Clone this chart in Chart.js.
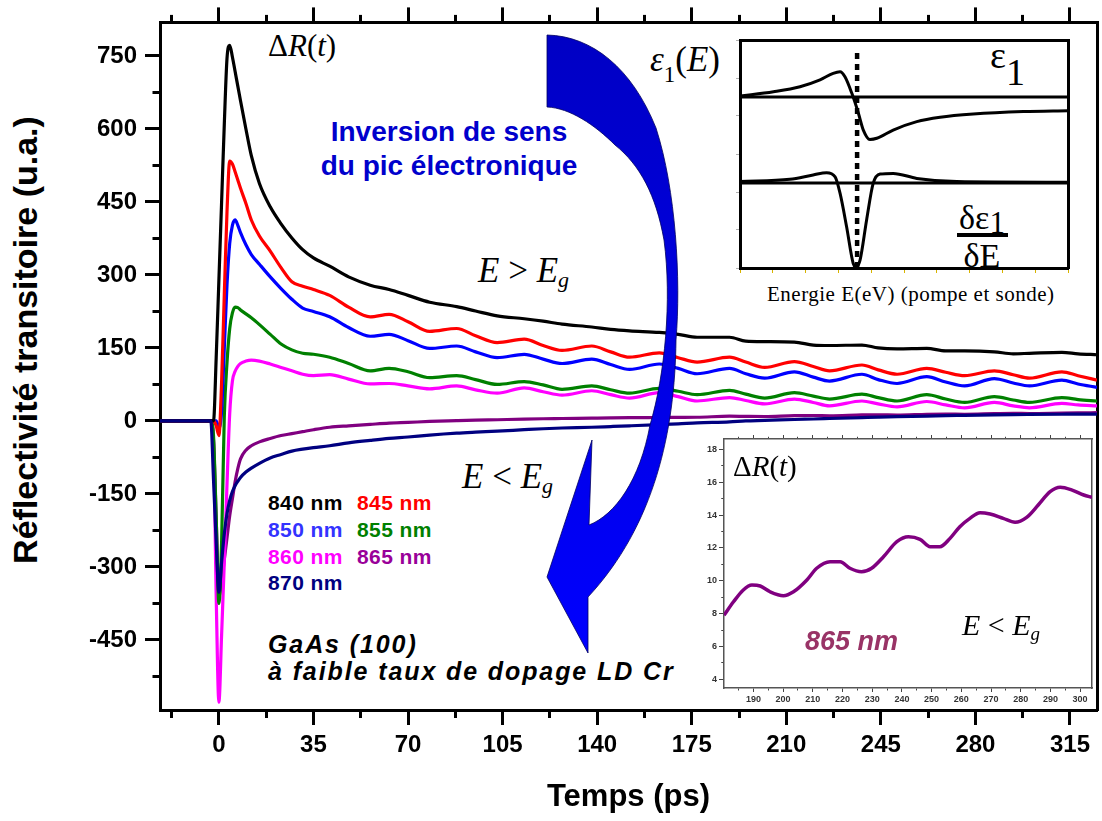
<!DOCTYPE html>
<html><head><meta charset="utf-8">
<script src="https://cdn.jsdelivr.net/npm/chart.js@4.4.0/dist/chart.umd.min.js"></script>
<style>
html,body{margin:0;padding:0;background:#fff;}
#wrap{position:relative;width:1102px;height:821px;overflow:hidden;background:#fff;}
#wrap canvas{position:absolute;}
.t{position:absolute;white-space:nowrap;line-height:1;}
.sans{font-family:'Liberation Sans',Arial,sans-serif;}
.serif{font-family:'Liberation Serif','Times New Roman',serif;}
.b{font-weight:bold;}
</style></head><body>
<div id="wrap">
<canvas id="main" width="1102" height="821" style="left:0;top:0;z-index:1"></canvas>
<svg width="1102" height="821" style="position:absolute;left:0;top:0;z-index:2">
  <defs><linearGradient id="ag" x1="0" y1="0" x2="0" y2="1">
    <stop offset="0" stop-color="#0000c4"/><stop offset="1" stop-color="#0000ff"/></linearGradient></defs>
  <path fill="url(#ag)" stroke="#000060" stroke-width="0.8"
   d="M547,35 C592,36 632,68 656,128 C676,190 681,280 676,340 C675,430 655,525 588,597 L588,653 L547,577 L592,440 L589,525 C615,515 640,480 650,425 C665,375 672,300 664,240 C656,195 640,165 615,145 C595,125 570,108 547,107 Z"/>
</svg>
<canvas id="eps" width="350" height="250" style="left:730px;top:30px;z-index:3"></canvas>
<canvas id="zoom" width="404" height="282" style="left:690px;top:428px;z-index:3"></canvas>

<div class="t sans b" style="left:25px;top:340px;font-size:34px;transform:translate(-50%,-50%) rotate(-90deg);">Réflectivité transitoire (u.a.)</div>

<div class="t serif" style="left:268px;top:30px;font-size:31px;">Δ<i>R</i>(<i>t</i>)</div>
<div class="t sans b" style="left:249px;top:115px;width:400px;text-align:center;font-size:28px;line-height:34px;color:#0000cc;">Inversion de sens<br>du pic électronique</div>
<div class="t serif" style="left:478px;top:253px;font-size:35px;"><i>E</i> &gt; <i>E</i><i style="font-size:22px;position:relative;top:5px;">g</i></div>
<div class="t serif" style="left:462px;top:459px;font-size:35px;"><i>E</i> &lt; <i>E</i><i style="font-size:22px;position:relative;top:5px;">g</i></div>

<div class="t sans b" style="left:268px;top:492px;font-size:21px;letter-spacing:0.4px;color:#000;">840 nm</div>
<div class="t sans b" style="left:357px;top:492px;font-size:21px;letter-spacing:0.4px;color:#ff0000;">845 nm</div>
<div class="t sans b" style="left:268px;top:519px;font-size:21px;letter-spacing:0.4px;color:#3333ff;">850 nm</div>
<div class="t sans b" style="left:357px;top:519px;font-size:21px;letter-spacing:0.4px;color:#008000;">855 nm</div>
<div class="t sans b" style="left:268px;top:546px;font-size:21px;letter-spacing:0.4px;color:#ff00ff;">860 nm</div>
<div class="t sans b" style="left:357px;top:546px;font-size:21px;letter-spacing:0.4px;color:#990099;">865 nm</div>
<div class="t sans b" style="left:268px;top:572px;font-size:21px;letter-spacing:0.4px;color:#000080;">870 nm</div>

<div class="t sans b" style="left:268px;top:632px;font-size:25px;letter-spacing:1.9px;font-style:italic;">GaAs (100)</div>
<div class="t sans b" style="left:268px;top:659px;font-size:25px;letter-spacing:1.9px;font-style:italic;">à faible taux de dopage LD Cr</div>

<div class="t serif" style="left:650px;top:42px;font-size:35px;"><i>ε</i><span style="font-size:23px;position:relative;top:11px;">1</span>(<i>E</i>)</div>
<div class="t serif" style="left:990px;top:36px;font-size:38px;">ε<span style="position:relative;top:17px;">1</span></div>
<div class="t serif" style="left:952px;top:201px;width:60px;text-align:center;font-size:34px;">δε<span style="font-size:31px;position:relative;top:4px;">1</span></div>
<div style="position:absolute;left:957px;top:233px;width:51px;height:4px;background:#000;z-index:4;"></div>
<div class="t serif" style="left:952px;top:239px;width:60px;text-align:center;font-size:34px;">δE</div>
<div class="t serif" style="left:767px;top:284px;font-size:21px;letter-spacing:0.5px;">Energie E(eV) (pompe et sonde)</div>

<div class="t serif" style="left:733px;top:452px;font-size:29px;z-index:4;">Δ<i>R</i>(<i>t</i>)</div>
<div class="t sans b" style="left:805px;top:628px;font-size:27px;font-style:italic;color:#993366;z-index:4;">865 nm</div>
<div class="t serif" style="left:962px;top:610px;font-size:30px;z-index:4;"><i>E</i> &lt; <i>E</i><i style="font-size:19px;position:relative;top:5px;">g</i></div>
</div>
<script>
// ---------------- main chart data (time in ps, ΔR in a.u.) ----------------
const timePs = [-22,-3,-2,-1,0,1,2,3,4,5,6,7,8,10,12,15,19,23,27,31,35,41,48,56,63,70,78,88,95,103,113,120,127,138,145,152,163,170,177,189,195,202,213,220,226,238,244,251,262,269,276,287,294,300,312,318,325];
const r840 = [0,0,0,130,290,450,610,745,772,748,718,688,658,600,545,488,440,405,376,352,335,318,296,279,270,258,244,235,226,216,210,205,199,193,188,185,182,178,172,172,164,163,162,156,155,156,150,148,149,144,144,142,138,139,141,138,136];
const r845 = [0,0,0,-10,-30,80,260,430,534,528,512,495,478,447,413,380,349,315,286,277,270,258,234,214,219,204,184,190,175,161,168,155,145,154,142,131,140,130,121,131,121,110,122,112,103,115,105,96,108,100,93,103,95,88,101,93,84];
const r850 = [0,0,0,0,-15,20,150,280,365,402,413,402,387,362,342,322,296,272,250,232,225,214,192,174,178,165,149,154,142,130,137,127,118,127,116,106,117,108,97,108,97,88,101,90,82,96,85,77,91,80,72,87,78,72,84,76,69];
const r855 = [0,0,-30,-200,-375,-250,10,120,190,222,234,233,228,220,212,198,178,158,146,139,137,131,118,103,108,101,89,93,85,75,81,74,65,72,64,57,67,61,54,63,55,47,58,51,45,55,48,41,54,45,38,50,43,38,48,44,41];
const r860 = [0,0,-40,-360,-578,-440,-290,-130,15,82,102,112,118,123,125,123,117,110,103,96,93,95,86,76,77,72,66,72,64,57,68,60,53,62,54,47,58,50,41,48,42,35,45,38,31,41,35,29,40,33,27,38,31,27,36,33,31];
const r865 = [0,0,-40,-200,-360,-330,-285,-240,-195,-160,-125,-98,-78,-60,-51,-43,-36,-30,-26,-22,-18,-13,-10,-7,-4.5,-3,-1,0.5,1.5,2.5,3.8,4.5,5,5.8,6.3,6.7,7.1,7.4,7.6,9.7,9.35,9.1,11.0,11.15,10.55,12.4,12.65,12.07,13.7,14.1,13.7,15.0,15.7,15.3,16.2,16.6,17.0];
const r870 = [0,0,-120,-250,-352,-290,-232,-190,-163,-145,-133,-124,-116,-105,-97,-87,-76,-69,-62,-58,-55,-51,-45,-40,-36,-33,-29,-25,-23,-21,-18,-16,-14.5,-13,-11.5,-10,-7.6,-6,-4,-2,0,1,3,4,5,7,8,9,10,11,11.5,12.5,13,13.3,13.8,14,14];
const seriesLabels = ['840 nm','845 nm','850 nm','855 nm','860 nm','865 nm','870 nm'];
const seriesColors = ['#000000','#ff0000','#0000ff','#008000','#ff00ff','#800080','#000080'];
const seriesOrder  = [1,2,3,4,5,6,0];
const seriesValues = [r840,r845,r850,r855,r860,r865,r870];
const xTickLabels = [0,35,70,105,140,175,210,245,280,315];
const yTickLabels = [-450,-300,-150,0,150,300,450,600,750];

// ---------------- inset: 865 nm zoom ----------------
const zoomT = [180.1,183.3,186.6,189.5,192.3,195.6,200.1,203.5,208,211.3,215.8,219.2,222.5,226.4,229.8,233.8,238.3,242.2,246.1,249.5,252.8,256.2,259.5,262.9,266.3,269.7,274.1,278.1,282,285.9,289.9,293.3,297.3,301.2,304];
const zoomV = [7.9,8.72,9.44,9.74,9.68,9.33,9.09,9.33,10.05,10.76,11.16,11.16,10.76,10.55,10.76,11.46,12.38,12.68,12.52,12.07,12.07,12.58,13.29,13.8,14.14,14.06,13.8,13.56,13.86,14.61,15.42,15.69,15.52,15.22,15.08];
const zoomXTicks = [190,200,210,220,230,240,250,260,270,280,290,300];
const zoomYTicks = [4,6,8,10,12,14,16,18];

// ---------------- inset: epsilon_1(E) sketch (arbitrary units) ----------------
const epsE = [0,10.2,18.3,24.4,28.4,30.5,32.0,34.1,36.1,37.6,39.6,41.7,46.7,53.9,61.0,71.1,86.4,100];
const epsV = [75.4,77.3,79.5,82.5,85.4,86.1,83.9,76.6,67.9,60.5,56.4,56.9,60.5,64.2,66.1,67.5,68.6,69.0];
const dEpsE = [0,15.2,22.3,26.4,29.0,30.5,32.5,34.5,35.4,36.6,38.6,40.6,42.7,46.7,53.9,66.1,100];
const dEpsV = [37.9,38.9,40.8,41.8,40.0,32.8,18.1,2.1,0.5,3.5,21.1,37.1,41.2,41.5,39.3,37.9,37.6];
const epsZero = 75.0, dEpsZero = 37.3, gapE = 35.7;

Chart.defaults.font.family = "'Liberation Sans', Arial, sans-serif";
Chart.defaults.color = '#000';

function withMinor(major){
  const step = major[1]-major[0], h = step/2, out=[];
  major.forEach(v=>{out.push(v-h); out.push(v);});
  out.push(major[major.length-1]+h);
  return out;
}
function near(list, v){ return list.some(m=>Math.abs(m-v)<1e-6); }
function setTicks(vals,min,max){ return s=>{ s.ticks = vals.filter(v=>v>=min-1e-9 && v<=max+1e-9).map(v=>({value:v})); }; }

// ---------- main chart ----------
const xMin=-21.8, xMax=325, yMin=-594, yMax=819;
const xAll = withMinor(xTickLabels), yAll = withMinor(yTickLabels);
const frame = {display:true, width:3, color:'#000'};
const tickFont = {family:"'Liberation Sans', Arial, sans-serif", size:24, weight:'bold'};

new Chart(document.getElementById('main'), {
  type:'line',
  data:{datasets: seriesValues.map((vals,i)=>({
    label: seriesLabels[i], order: seriesOrder[i],
    data: timePs.map((t,k)=>({x:t,y:vals[k]})),
    borderColor: seriesColors[i], backgroundColor: seriesColors[i],
    borderWidth:3.2, pointRadius:0, fill:false, cubicInterpolationMode:'monotone'
  }))},
  options:{
    responsive:false, animation:false, devicePixelRatio:1,
    layout:{padding:0},
    plugins:{legend:{display:false}, tooltip:{enabled:false}},
    scales:{
      x:{type:'linear', position:'bottom', min:xMin, max:xMax, bounds:'data',
         afterBuildTicks:setTicks(xAll,xMin,xMax), afterFit:s=>{s.height=111;},
         grid:{display:true, drawOnChartArea:false, drawTicks:true, tickLength:15, tickWidth:3, tickColor:'#000',
               tickBorderDash:c=> near(xTickLabels,c.tick.value)?[]:[6,30]},
         border:frame,
         ticks:{autoSkip:false, maxRotation:0, padding:6, color:'#000', font:tickFont,
                callback:v=> near(xTickLabels,v)? String(v) : ''},
         title:{display:true, text:'Temps (ps)', color:'#000', font:{size:31, weight:'bold'}, padding:{top:0,bottom:5}}},
      x2:{type:'linear', position:'top', min:xMin, max:xMax, bounds:'data',
         afterBuildTicks:setTicks(xAll,xMin,xMax), afterFit:s=>{s.height=20;},
         grid:{display:true, drawOnChartArea:false, drawTicks:true, tickLength:15, tickWidth:3, tickColor:'#000',
               tickBorderDash:c=> near(xTickLabels,c.tick.value)?[]:[10,7.5],
               tickBorderDashOffset:c=> near(xTickLabels,c.tick.value)?0:10},
         border:frame, ticks:{display:false}},
      y:{type:'linear', position:'left', min:yMin, max:yMax, bounds:'data',
         afterBuildTicks:setTicks(yAll,yMin,yMax), afterFit:s=>{s.width=160;},
         grid:{display:true, drawOnChartArea:false, drawTicks:true, tickLength:15, tickWidth:3, tickColor:'#000',
               tickBorderDash:c=> near(yTickLabels,c.tick.value)?[]:[10,7.5],
               tickBorderDashOffset:c=> near(yTickLabels,c.tick.value)?0:10},
         border:frame,
         ticks:{autoSkip:false, padding:8, color:'#000', font:tickFont,
                callback:v=> near(yTickLabels,v)? String(v) : ''}},
      y2:{type:'linear', position:'right', min:yMin, max:yMax, bounds:'data',
         afterFit:s=>{s.width=5;},
         grid:{display:true, drawOnChartArea:false, drawTicks:false},
         border:frame, ticks:{display:false}}
    }
  }
});

// ---------- inset 865 nm ----------
const zxMin=180.1, zxMax=304, zyMin=3.47, zyMax=18.63;
const zxAll = withMinor(zoomXTicks), zyAll = withMinor(zoomYTicks);
const zFrame = {display:true, width:1.5, color:'#555'};
const zFont = {family:"'Liberation Sans', Arial, sans-serif", size:9, weight:'bold'};
new Chart(document.getElementById('zoom'), {
  type:'line',
  data:{datasets:[{label:'865 nm', data: zoomT.map((t,k)=>({x:t,y:zoomV[k]})),
    borderColor:'#800080', borderWidth:3.5, pointRadius:0, fill:false, cubicInterpolationMode:'monotone'}]},
  options:{
    responsive:false, animation:false, devicePixelRatio:1, layout:{padding:0},
    plugins:{legend:{display:false}, tooltip:{enabled:false}},
    scales:{
      x:{type:'linear', position:'bottom', min:zxMin, max:zxMax, bounds:'data',
         afterBuildTicks:setTicks(zxAll,zxMin,zxMax), afterFit:s=>{s.height=22;},
         grid:{display:true, drawOnChartArea:false, tickLength:4, tickWidth:1, tickColor:'#444',
               tickBorderDash:c=> near(zoomXTicks,c.tick.value)?[]:[2,20]},
         border:zFrame,
         ticks:{autoSkip:false, maxRotation:0, padding:2, color:'#333', font:zFont,
                callback:v=> near(zoomXTicks,v)? String(v):''}},
      x2:{type:'linear', position:'top', min:zxMin, max:zxMax, bounds:'data',
         afterBuildTicks:setTicks(zxAll,zxMin,zxMax), afterFit:s=>{s.height=11;},
         grid:{display:true, drawOnChartArea:false, tickLength:4, tickWidth:1, tickColor:'#444',
               tickBorderDash:c=> near(zoomXTicks,c.tick.value)?[]:[10,1.75],
               tickBorderDashOffset:c=> near(zoomXTicks,c.tick.value)?0:10},
         border:zFrame, ticks:{display:false}},
      y:{type:'linear', position:'left', min:zyMin, max:zyMax, bounds:'data',
         afterBuildTicks:setTicks(zyAll,zyMin,zyMax), afterFit:s=>{s.width=34;},
         grid:{display:true, drawOnChartArea:false, tickLength:5, tickWidth:1, tickColor:'#444',
               tickBorderDash:c=> near(zoomYTicks,c.tick.value)?[]:[10,2.25],
               tickBorderDashOffset:c=> near(zoomYTicks,c.tick.value)?0:10},
         border:zFrame,
         ticks:{autoSkip:false, padding:2, color:'#333', font:zFont,
                callback:v=> near(zoomYTicks,v)? String(v):''}},
      y2:{type:'linear', position:'right', min:zyMin, max:zyMax, bounds:'data',
         afterFit:s=>{s.width=2;},
         grid:{display:true, drawOnChartArea:false, drawTicks:false},
         border:zFrame, ticks:{display:false}}
    }
  }
});

// ---------- inset epsilon_1 ----------
const epsBottomTicks = [0,10,20,30,40,50,60,70,80,90,100];
const epsLeftTicks = [0,100/6,200/6,50,400/6,500/6,100];
new Chart(document.getElementById('eps'), {
  type:'line',
  data:{datasets:[
    {label:'ε1', data: epsE.map((e,k)=>({x:e,y:epsV[k]})), borderColor:'#000', borderWidth:3, pointRadius:0, cubicInterpolationMode:'monotone'},
    {label:'δε1/δE', data: dEpsE.map((e,k)=>({x:e,y:dEpsV[k]})), borderColor:'#000', borderWidth:3, pointRadius:0, cubicInterpolationMode:'monotone'},
    {label:'ε1 = 0', data:[{x:0,y:epsZero},{x:100,y:epsZero}], borderColor:'#000', borderWidth:3, pointRadius:0},
    {label:'δε1 = 0', data:[{x:0,y:dEpsZero},{x:100,y:dEpsZero}], borderColor:'#000', borderWidth:3, pointRadius:0},
    {label:'Eg', data:[{x:gapE,y:0},{x:gapE,y:96.5}], borderColor:'#000', borderWidth:4.5, borderDash:[6,5], pointRadius:0}
  ]},
  options:{
    responsive:false, animation:false, devicePixelRatio:1, layout:{padding:0},
    plugins:{legend:{display:false}, tooltip:{enabled:false}},
    scales:{
      x:{type:'linear', position:'bottom', min:0, max:100, bounds:'data',
         afterBuildTicks:setTicks(epsBottomTicks,0,100), afterFit:s=>{s.height=12;},
         grid:{display:true, drawOnChartArea:false, tickLength:5, tickWidth:1, tickColor:'#d8b400'},
         border:frame, ticks:{display:false}},
      x2:{type:'linear', position:'top', min:0, max:100, afterFit:s=>{s.height=10;},
         grid:{display:true, drawOnChartArea:false, drawTicks:false}, border:frame, ticks:{display:false}},
      y:{type:'linear', position:'left', min:0, max:100, bounds:'data',
         afterBuildTicks:setTicks(epsLeftTicks,0,100), afterFit:s=>{s.width=10;},
         grid:{display:true, drawOnChartArea:false, tickLength:4, tickWidth:1, tickColor:'#b0b0b0'},
         border:frame, ticks:{display:false}},
      y2:{type:'linear', position:'right', min:0, max:100, afterFit:s=>{s.width=12;},
         grid:{display:true, drawOnChartArea:false, drawTicks:false}, border:frame, ticks:{display:false}}
    }
  }
});
</script>
</body></html>
